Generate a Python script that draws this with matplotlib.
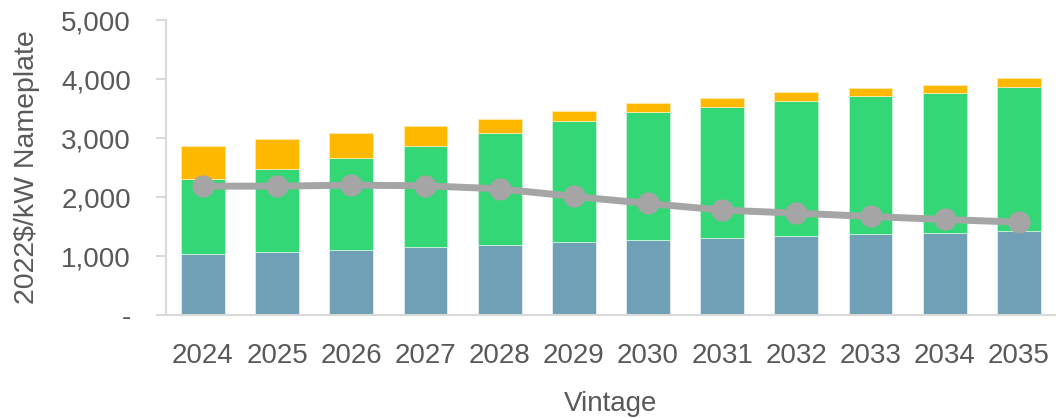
import matplotlib
matplotlib.use("Agg")
import matplotlib.pyplot as plt
from matplotlib.ticker import FuncFormatter
import numpy as np

plt.rcParams['font.family'] = ['Liberation Sans', 'DejaVu Sans']

vintages = ['2024', '2025', '2026', '2027', '2028', '2029',
            '2030', '2031', '2032', '2033', '2034', '2035']

# stacked cost components, 2022$/kW
base = [1030, 1062, 1096, 1147, 1192, 1232, 1266, 1300, 1334, 1367, 1384, 1418]
middle = [1281, 1418, 1571, 1723, 1887, 2050, 2169, 2231, 2299, 2339, 2384, 2452]
top = [559, 503, 423, 328, 243, 176, 163, 153, 141, 136, 130, 141]

# net cost line
net = [2186, 2186, 2203, 2192, 2141, 2011, 1893, 1780, 1729, 1672, 1621, 1576]

text_col = '#595959'
axis_col = '#d9d9d9'

fig = plt.figure(figsize=(10.56, 4.18), dpi=100)
ax = fig.add_axes([0.157, 0.246, 0.843, 0.706])

x = np.arange(len(vintages))
w = 0.59
b = np.array(base)
m = np.array(middle)
ax.bar(x, base, w, color='#6fa0b5', edgecolor='#e6eef2', linewidth=0.6, zorder=2)
ax.bar(x, middle, w, bottom=b, color='#33d775', edgecolor='#c9f3d9', linewidth=0.6, zorder=2)
ax.bar(x, top, w, bottom=b + m, color='#ffb800', edgecolor='#ffe9b0', linewidth=0.6, zorder=2)

ax.plot(x, net, color='#a5a5a5', linewidth=5, marker='o', markersize=15, zorder=3)

ax.set_xlim(-0.5, len(vintages) - 0.5)
ax.set_ylim(0, 5000)
ax.set_yticks(range(0, 5001, 1000))
ax.yaxis.set_major_formatter(FuncFormatter(lambda v, p: '-' if v == 0 else f'{int(v):,}'))
ax.set_xticks(x)
ax.set_xticklabels(vintages)

for s in ['top', 'right']:
    ax.spines[s].set_visible(False)
for s in ['left', 'bottom']:
    ax.spines[s].set_color(axis_col)
    ax.spines[s].set_linewidth(1.5)

ax.tick_params(axis='y', length=7, width=1.5, color=axis_col, pad=18,
               labelsize=20, labelcolor=text_col)
ax.tick_params(axis='x', length=0, pad=20, labelsize=20, labelcolor=text_col)

ax.set_ylabel('2022$/kW Nameplate', fontsize=20.5, color=text_col, labelpad=15)
ax.set_xlabel('Vintage', fontsize=20, color=text_col, labelpad=16)

fig.savefig('out.png', dpi=100)
